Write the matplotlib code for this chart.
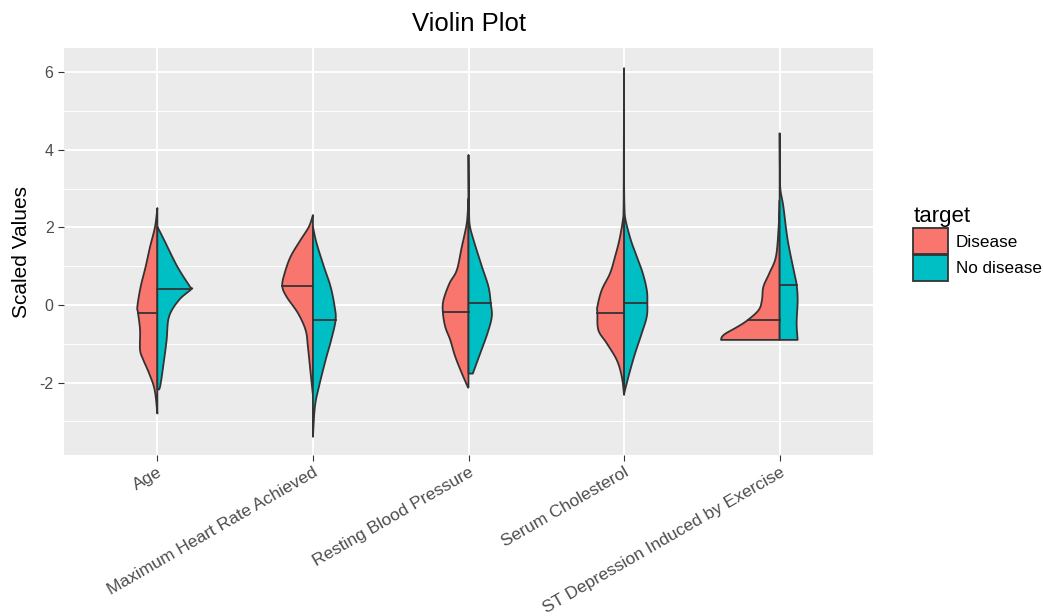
import matplotlib.pyplot as plt
from matplotlib.patches import Patch
import numpy as np

plt.rcParams['font.family'] = ['Liberation Sans', 'DejaVu Sans']
plt.rcParams['axes.unicode_minus'] = False

categories = ['Age', 'Maximum Heart Rate Achieved', 'Resting Blood Pressure',
              'Serum Cholesterol', 'ST Depression Induced by Exercise']
groups = ['Disease', 'No disease']

# density outlines: (scaled value, relative density)
age_disease = [(2.50, 0), (2.02, 2.3), (1.50, 7.3), (0.99, 11.7), (0.47, 16.7), (-0.04, 20),
               (-0.21, 19.3), (-0.65, 17.3), (-1.16, 17.3), (-1.42, 14), (-1.76, 8.3),
               (-2.19, 2.7), (-2.80, 0)]
age_nodisease = [(2.02, 0), (1.68, 6.7), (0.99, 20), (0.47, 32.7), (0.41, 34), (0.13, 21.7),
                 (-0.30, 11.7), (-0.90, 9.3), (-1.42, 6.7), (-2.11, 2.7), (-2.17, 0)]
mhr_disease = [(2.32, 0), (2.02, 4), (1.68, 12.3), (1.25, 22.3), (0.82, 28.3), (0.49, 30.7),
               (0.21, 26.3), (-0.21, 15), (-0.65, 7.3), (-1.08, 5), (-1.76, 2.3), (-2.32, 0)]
mhr_nodisease = [(2.02, 0), (1.59, 3.7), (0.99, 11), (0.47, 17.7), (-0.04, 21.7), (-0.39, 22.7),
                 (-0.90, 18.3), (-1.42, 12.7), (-2.11, 6), (-2.62, 2), (-3.40, 0)]
rbp_disease = [(2.75, 0), (2.30, 1.0), (2.02, 2.3), (1.50, 6.7), (0.90, 11.7), (0.56, 19),
               (0.13, 25), (-0.17, 25.7), (-0.56, 23.3), (-0.90, 18.3), (-1.33, 13.3),
               (-1.76, 6.7), (-2.13, 0.5)]
rbp_nodisease = [(3.87, 0), (2.90, 0.3), (2.30, 0.6), (2.02, 1.5), (1.68, 5), (1.00, 13.3),
                 (0.47, 20), (0.04, 22.3), (-0.30, 23.3), (-0.73, 19), (-1.25, 11.7),
                 (-1.77, 4.3)]
chol_disease = [(6.11, 0), (3.50, 0.3), (2.50, 0.5), (2.19, 1.2), (1.68, 4.7), (1.25, 9),
                (0.82, 14), (0.39, 22.3), (-0.04, 26.7), (-0.21, 26.7), (-0.65, 25.7),
                (-0.99, 17.3), (-1.42, 7.3), (-1.85, 2.3), (-2.32, 0)]
chol_nodisease = [(3.14, 0), (2.50, 0.4), (2.19, 1.5), (1.68, 6.7), (1.25, 12.7), (0.82, 18.7),
                  (0.39, 22.7), (0.06, 23.3), (-0.30, 22.7), (-0.73, 17.7), (-1.25, 11),
                  (-1.76, 5.3), (-2.19, 1), (-2.30, 0)]
st_disease = [(2.71, 0), (2.02, 1), (1.25, 3.7), (0.82, 10.3), (0.47, 16.3), (0.13, 17.7),
              (-0.13, 21), (-0.39, 32), (-0.56, 42), (-0.73, 53.7), (-0.82, 57.7), (-0.90, 58.7)]
st_nodisease = [(4.43, 0), (3.40, 0.3), (2.97, 0.8), (2.54, 3.7), (1.68, 8), (0.82, 14.7),
                (0.52, 17), (0.13, 18), (-0.47, 17), (-0.90, 18)]

disease_profiles = [age_disease, mhr_disease, rbp_disease, chol_disease, st_disease]
nodisease_profiles = [age_nodisease, mhr_nodisease, rbp_nodisease, chol_nodisease, st_nodisease]

median_disease = [-0.21, 0.49, -0.17, -0.21, -0.39]
median_nodisease = [0.40, -0.39, 0.04, 0.06, 0.52]

colors = ['#F8766D', '#00BFC4']
edge = '#333333'
width_scale = 1 / 155.7


def smooth_outline(ys, ws, n=12):
    # catmull-rom pass so the outline is drawn as a curve, not straight segments
    P = np.column_stack([ys, ws])
    P = np.vstack([P[0], P, P[-1]])
    out = []
    t = np.linspace(0, 1, n, endpoint=False)[:, None]
    for k in range(1, len(P) - 2):
        p0, p1, p2, p3 = P[k - 1], P[k], P[k + 1], P[k + 2]
        seg = 0.5 * ((2 * p1) + (-p0 + p2) * t + (2 * p0 - 5 * p1 + 4 * p2 - p3) * t ** 2
                     + (-p0 + 3 * p1 - 3 * p2 + p3) * t ** 3)
        out.append(seg)
    out.append(P[-2][None, :])
    out = np.vstack(out)
    return out[:, 0], np.clip(out[:, 1], 0, None)


fig = plt.figure(figsize=(10.43, 6.16), dpi=100)
ax = fig.add_axes([64 / 1043, 161 / 616, 809 / 1043, 407 / 616])
ax.set_facecolor('#EBEBEB')


def draw_half(ax, pos, profile, med, side, color):
    ys = np.array([p[0] for p in profile])
    ws = np.array([p[1] for p in profile]) * width_scale
    sy, sw = smooth_outline(ys, ws)
    xs = pos + side * sw
    px = np.concatenate([[pos], xs, [pos]])
    py = np.concatenate([[sy[0]], sy, [sy[-1]]])
    ax.fill(px, py, facecolor=color, edgecolor=edge, linewidth=1.3, zorder=3,
            joinstyle='round')
    wm = np.interp(med, sy[::-1], sw[::-1])
    ax.plot([pos, pos + side * wm], [med, med], color=edge, linewidth=1.3, zorder=4)


for i in range(len(categories)):
    pos = i + 1
    draw_half(ax, pos, disease_profiles[i], median_disease[i], -1, colors[0])
    draw_half(ax, pos, nodisease_profiles[i], median_nodisease[i], 1, colors[1])

ax.set_xlim(0.4, 5.6)
ax.set_ylim(-3.87, 6.63)
ax.set_yticks([-2, 0, 2, 4, 6])
ax.set_yticks([-3, -1, 1, 3, 5], minor=True)
ax.set_xticks(range(1, 6))
ax.set_xticklabels(categories, rotation=30, ha='right', rotation_mode='anchor')
ax.grid(True, which='major', color='white', linewidth=1.4)
ax.grid(True, which='minor', axis='y', color='white', linewidth=0.7)
ax.set_axisbelow(True)
for s in ax.spines.values():
    s.set_visible(False)
ax.tick_params(axis='both', which='major', length=4, color='#333333', labelcolor='#4D4D4D',
               labelsize=11.5)
ax.tick_params(axis='x', labelsize=12.5, pad=3)
ax.tick_params(axis='both', which='minor', length=0)

ax.set_ylabel('Scaled Values', fontsize=15, color='black', labelpad=6)
ax.set_title('Violin Plot', fontsize=18.5, pad=12)

handles = [Patch(facecolor=colors[0], edgecolor=edge, linewidth=1.3),
           Patch(facecolor=colors[1], edgecolor=edge, linewidth=1.3)]
leg = fig.legend(handles, groups, title='target', loc='upper left',
                 bbox_to_anchor=(898 / 1043, 1 - 191 / 616), frameon=False,
                 fontsize=12.3, title_fontsize=16, handlelength=2.0, handleheight=1.95,
                 handletextpad=0.5, labelspacing=0.05)
leg._legend_box.align = 'left'

plt.savefig('out.png', dpi=100)
